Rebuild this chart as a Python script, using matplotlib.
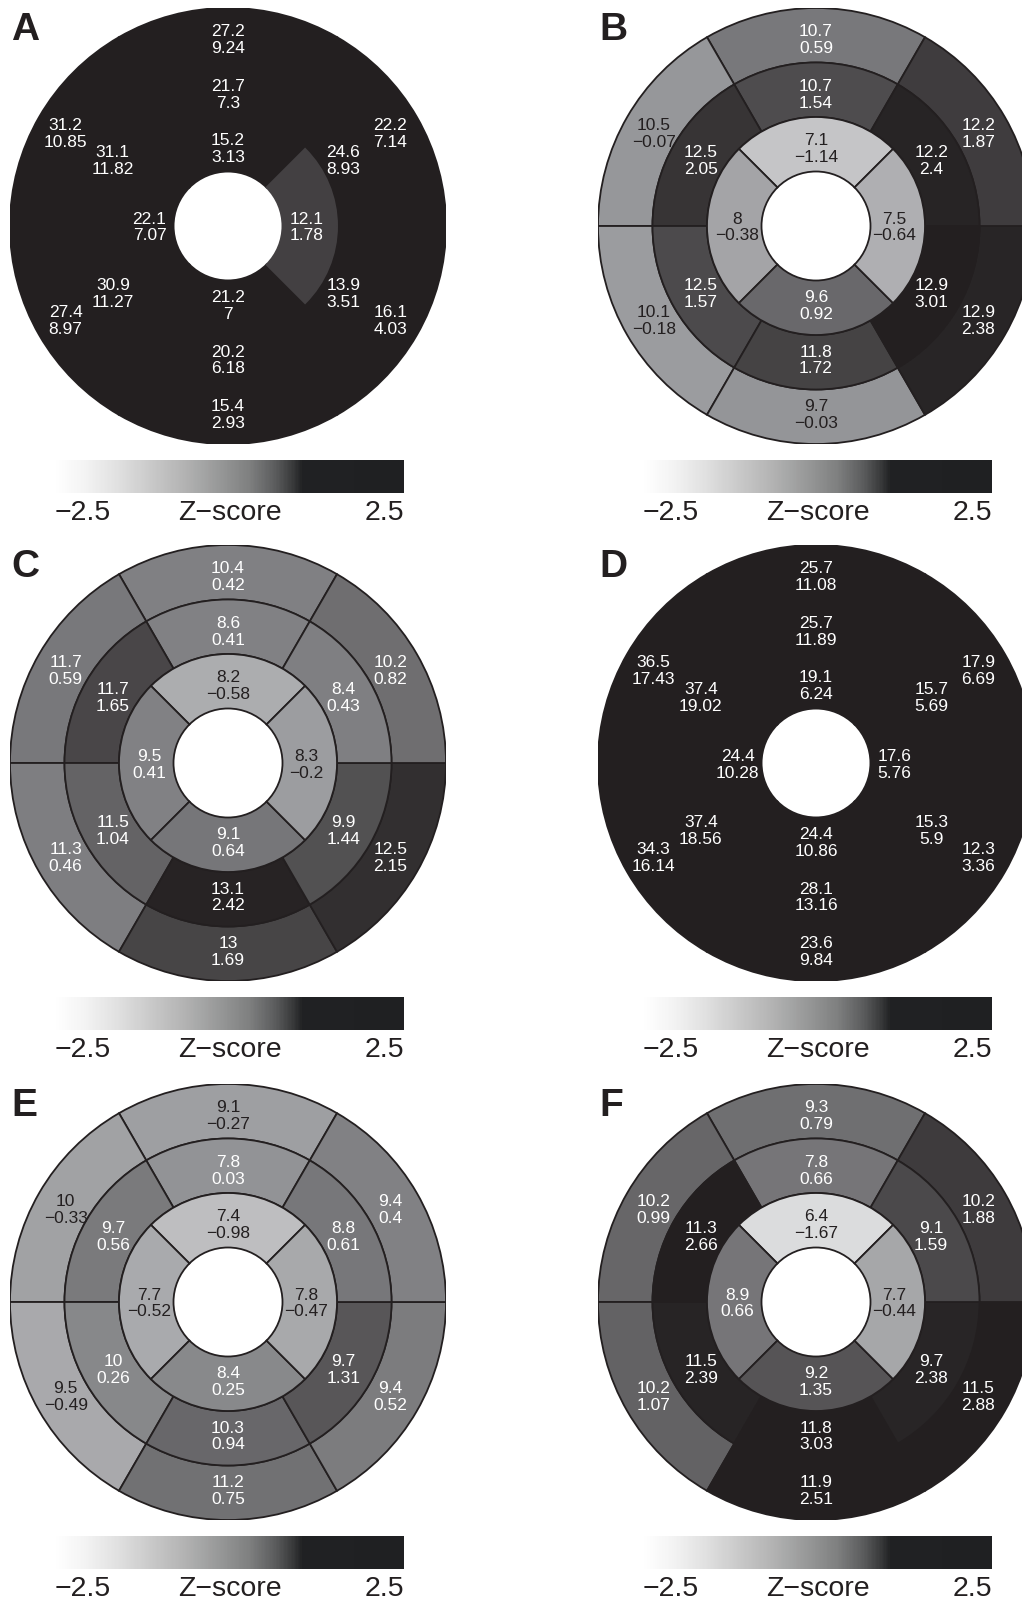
import numpy as np
import matplotlib
matplotlib.use("Agg")
import matplotlib.pyplot as plt
from matplotlib.patches import Wedge
from matplotlib.colors import LinearSegmentedColormap, Normalize
from matplotlib.cm import ScalarMappable
from matplotlib.transforms import offset_copy

plt.rcParams["font.family"] = ["Liberation Sans", "DejaVu Sans"]

panels = ["A", "B", "C", "D", "E", "F"]

# basal / mid rings: anterior, anteroseptal, inferoseptal, inferior, inferolateral, anterolateral
basal_values = [
    [27.2, 31.2, 27.4, 15.4, 16.1, 22.2],
    [10.7, 10.5, 10.1, 9.7, 12.9, 12.2],
    [10.4, 11.7, 11.3, 13, 12.5, 10.2],
    [25.7, 36.5, 34.3, 23.6, 12.3, 17.9],
    [9.1, 10, 9.5, 11.2, 9.4, 9.4],
    [9.3, 10.2, 10.2, 11.9, 11.5, 10.2],
]
basal_z = [
    [9.24, 10.85, 8.97, 2.93, 4.03, 7.14],
    [0.59, -0.07, -0.18, -0.03, 2.38, 1.87],
    [0.42, 0.59, 0.46, 1.69, 2.15, 0.82],
    [11.08, 17.43, 16.14, 9.84, 3.36, 6.69],
    [-0.27, -0.33, -0.49, 0.75, 0.52, 0.4],
    [0.79, 0.99, 1.07, 2.51, 2.88, 1.88],
]
mid_values = [
    [21.7, 31.1, 30.9, 20.2, 13.9, 24.6],
    [10.7, 12.5, 12.5, 11.8, 12.9, 12.2],
    [8.6, 11.7, 11.5, 13.1, 9.9, 8.4],
    [25.7, 37.4, 37.4, 28.1, 15.3, 15.7],
    [7.8, 9.7, 10, 10.3, 9.7, 8.8],
    [7.8, 11.3, 11.5, 11.8, 9.7, 9.1],
]
mid_z = [
    [7.3, 11.82, 11.27, 6.18, 3.51, 8.93],
    [1.54, 2.05, 1.57, 1.72, 3.01, 2.4],
    [0.41, 1.65, 1.04, 2.42, 1.44, 0.43],
    [11.89, 19.02, 18.56, 13.16, 5.9, 5.69],
    [0.03, 0.56, 0.26, 0.94, 1.31, 0.61],
    [0.66, 2.66, 2.39, 3.03, 2.38, 1.59],
]
# apical ring: anterior, septal, inferior, lateral
apical_values = [
    [15.2, 22.1, 21.2, 12.1],
    [7.1, 8, 9.6, 7.5],
    [8.2, 9.5, 9.1, 8.3],
    [19.1, 24.4, 24.4, 17.6],
    [7.4, 7.7, 8.4, 7.8],
    [6.4, 8.9, 9.2, 7.7],
]
apical_z = [
    [3.13, 7.07, 7, 1.78],
    [-1.14, -0.38, 0.92, -0.64],
    [-0.58, 0.41, 0.64, -0.2],
    [6.24, 10.28, 10.86, 5.76],
    [-0.98, -0.52, 0.25, -0.47],
    [-1.67, 0.66, 1.35, -0.44],
]

zmin, zmax = -2.5, 2.5
dark = "#231f20"
seg_cmap = LinearSegmentedColormap.from_list(
    "seg", [(0, "#ffffff"), (0.5, "#939497"), (1, dark)]
)
bar_cmap = LinearSegmentedColormap.from_list(
    "bar",
    [(0, "#ffffff"), (0.085, "#f3f3f3"), (0.18, "#e0e0e0"), (0.27, "#cacaca"),
     (0.365, "#b4b4b4"), (0.46, "#9a9b9b"), (0.556, "#7f8080"),
     (0.63, "#5c5d5e"), (0.68, "#3a3b3c"), (0.71, "#202123"), (1, "#1f2022")],
)
norm = Normalize(zmin, zmax, clip=True)

W, H = 1022, 1604
fig = plt.figure(figsize=(W / 100, H / 100), dpi=100)

R = 218
col_x = [228, 816]
row_y = [226, 763, 1302]
draw_edges = [False, True, True, False, True, True]


def fmt(v):
    return f"{v:g}".replace("-", "\u2212")


def ring(ax, values, zs, r_in, r_out, r_lab, angles, half, edges):
    for v, z, a in zip(values, zs, angles):
        fc = seg_cmap(norm(z))
        if edges:
            ec, lw = dark, 1.3
        else:
            ec, lw = fc, 1.4
        ax.add_patch(Wedge((0, 0), r_out, a - half, a + half,
                           width=r_out - r_in, facecolor=fc,
                           edgecolor=ec, linewidth=lw, zorder=1 if edges else 1 + (z < 2.5)))
        x = r_lab * np.cos(np.radians(a))
        y = r_lab * np.sin(np.radians(a))
        tc = "white" if z >= 0 else dark
        t1 = offset_copy(ax.transData, fig=fig, x=0, y=2.4, units="dots")
        t2 = offset_copy(ax.transData, fig=fig, x=0, y=-14.5, units="dots")
        ax.text(x, y, fmt(v), transform=t1, ha="center", va="baseline",
                fontsize=12.5, color=tc, zorder=5)
        ax.text(x, y, fmt(z), transform=t2, ha="center", va="baseline",
                fontsize=12.5, color=tc, zorder=5)


six_angles = [90, 150, 210, 270, 330, 30]
four_angles = [90, 180, 270, 0]

for i, name in enumerate(panels):
    cx = col_x[i % 2]
    cy = row_y[i // 2]
    ax = fig.add_axes([(cx - R) / W, 1 - (cy + R) / H, 2 * R / W, 2 * R / H])
    ax.set_xlim(-1, 1)
    ax.set_ylim(-1, 1)
    ax.axis("off")

    ring(ax, basal_values[i], basal_z[i], 0.75, 1.0, 0.86, six_angles, 30, draw_edges[i])
    ring(ax, mid_values[i], mid_z[i], 0.5, 0.75, 0.61, six_angles, 30, draw_edges[i])
    ring(ax, apical_values[i], apical_z[i], 0.25, 0.5, 0.36, four_angles, 45, draw_edges[i])

    # panel letter
    fig.text((cx - 217) / W, 1 - (cy - 214) / H, name, ha="left", va="top",
             fontsize=28, fontweight="bold", color=dark)

    # colour bar
    bx0, bw = cx - 173, 349
    by0, bh = cy + 234, 33
    cax = fig.add_axes([bx0 / W, 1 - (by0 + bh) / H, bw / W, bh / H])
    cb = fig.colorbar(ScalarMappable(norm=norm, cmap=bar_cmap), cax=cax,
                      orientation="horizontal")
    cb.set_ticks([])
    cb.outline.set_visible(False)
    base = 1 - (by0 + bh + 27) / H
    fig.text(bx0 / W, base, fmt(zmin), ha="left", va="baseline",
             fontsize=20.5, color=dark)
    fig.text((bx0 + bw / 2) / W, base, "Z\u2212score", ha="center",
             va="baseline", fontsize=20.5, color=dark)
    fig.text((bx0 + bw) / W, base, fmt(zmax), ha="right", va="baseline",
             fontsize=20.5, color=dark)

fig.savefig("out.png", dpi=100)
